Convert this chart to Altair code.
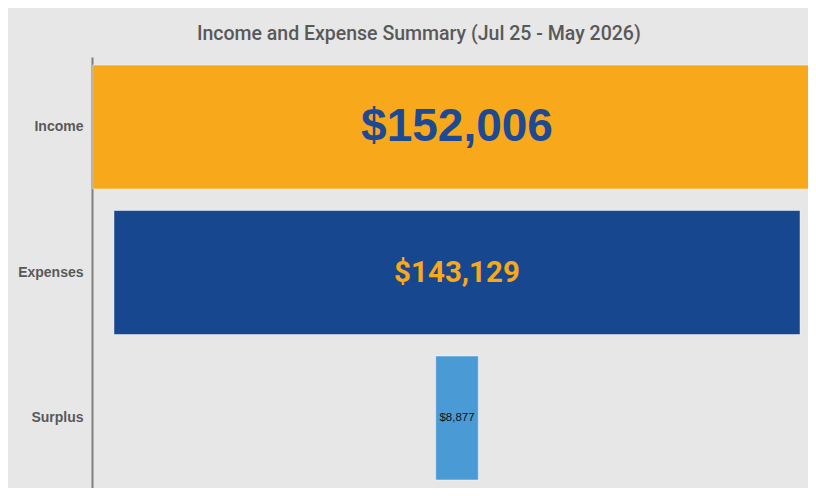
import altair as alt
import pandas as pd

categories = ["Income", "Expenses", "Surplus"]
amounts = [152006, 143129, 8877]
bar_colors = ["#F7A81B", "#17478E", "#4A9BD5"]
title_text = "Income and Expense Summary (Jul 25 - May 2026)"

df = pd.DataFrame({"category": categories, "amount": amounts})

base = alt.Chart(df).transform_calculate(
    lo="-datum.amount / 2", hi="datum.amount / 2", mid="0"
)

y_enc = alt.Y(
    "category:N",
    sort=categories,
    scale=alt.Scale(paddingInner=0.148, paddingOuter=0.055),
    axis=alt.Axis(
        title=None, ticks=False, domainColor="#7F7F7F", domainWidth=2,
        labelFont="Liberation Sans", labelFontSize=14, labelFontWeight="bold",
        labelColor="#595959", labelPadding=9,
    ),
)
x_scale = alt.Scale(domain=[-76150, 73230], nice=False, zero=False)

bars = base.mark_bar(clip=True, stroke="#FFFFFF", strokeOpacity=0.45, strokeWidth=1).encode(
    x=alt.X("lo:Q", scale=x_scale, axis=None),
    x2="hi:Q",
    y=y_enc,
    color=alt.Color("category:N", scale=alt.Scale(domain=categories, range=bar_colors), legend=None),
)

def label(cat, font, size, color, weight):
    return base.transform_filter(alt.datum.category == cat).mark_text(
        font=font, fontSize=size, fontWeight=weight, color=color,
        align="center", baseline="middle",
    ).encode(
        x=alt.X("mid:Q", scale=x_scale, axis=None),
        y=alt.Y("category:N", sort=categories),
        text=alt.Text("amount:Q", format="$,.0f"),
    )

t1 = label("Income", "Liberation Sans", 46, "#1E4A94", "bold")
t2 = label("Expenses", "Roboto", 29.5, "#F7A81B", "bold")
t3 = label("Surplus", "Liberation Sans", 11.5, "#111111", "normal")

chart = alt.layer(bars, t1, t2, t3).properties(
    width=716,
    height=431,
    autosize=alt.AutoSizeParams(type="none"),
    padding={"left": 84, "top": 49, "right": 0, "bottom": 0},
    title=alt.TitleParams(
        title_text, anchor="middle", frame="bounds", fontSize=19.5,
        font="Roboto", fontWeight=500, color="#595959", offset=13, dx=6,
    ),
).configure(background="#E7E7E7").configure_view(stroke=None)

chart.save("out.html", embed_options={"renderer": "svg", "actions": False})
